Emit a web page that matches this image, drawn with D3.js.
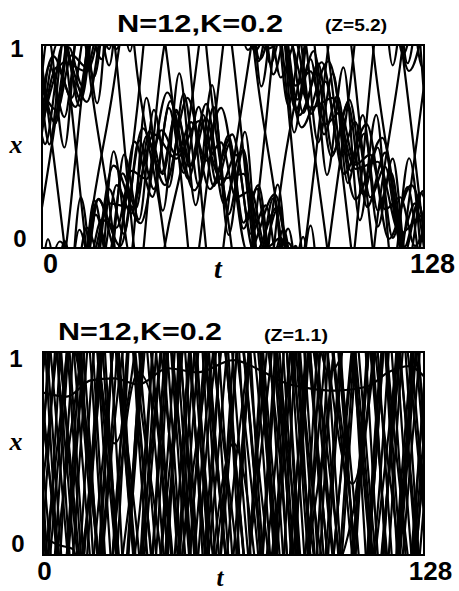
<!DOCTYPE html>
<html>
<head>
<meta charset="utf-8">
<script src="https://cdn.jsdelivr.net/npm/d3@7"></script>
<style>
  body { margin: 0; background: #fff; }
  svg { display: block; }
</style>
</head>
<body>
<svg id="fig" width="459" height="591"></svg>
<script>
// t runs 0..128, x is periodic on [0,1]; values below are unwrapped x
const tDomain = [0, 128]
const xDomain = [0, 1]
const tTicks = [0, 128]
const xTicks = [0, 1]

const titles = ['N=12,K=0.2', 'N=12,K=0.2']
const subTitles = ['(Z=5.2)', '(Z=1.1)']

// --- top panel: ten swing about the drifting bunch, two circulate freely
const c1 = [[0,0.78],[5,0.68],[10,0.95],[15,0.89],[20,1.14],[25,1.10],[30,1.38],[35,1.34],[40,1.58],[45,1.46],[50,1.62],[55,1.43],[60,1.52],[65,1.25],[70,1.28],[75,1.00],[80,1.05],[85,0.80],[90,0.87],[95,0.61],[100,0.67],[105,0.41],[110,0.46],[115,0.19],[120,0.25],[125,0.01],[128,0.10]]
const c2 = [[0,0.57],[5,0.89],[10,0.74],[15,1.10],[20,0.93],[25,1.31],[30,1.17],[35,1.55],[40,1.37],[45,1.67],[50,1.41],[55,1.64],[60,1.31],[65,1.46],[70,1.07],[75,1.21],[80,0.84],[85,1.01],[90,0.66],[95,0.82],[100,0.46],[105,0.62],[110,0.25],[115,0.40],[120,0.04],[125,0.22],[128,0.0]]
const c3 = [[0,0.62],[2.5,0.90],[7.5,0.645],[12.5,1.09],[17.5,0.845],[22.5,1.29],[27.5,1.07],[32.5,1.53],[37.5,1.29],[42.5,1.69],[47.5,1.37],[52.5,1.695],[57.5,1.305],[62.5,1.555],[67.5,1.095],[72.5,1.31],[77.5,0.855],[82.5,1.095],[87.5,0.665],[92.5,0.91],[97.5,0.47],[102.5,0.71],[107.5,0.265],[112.5,0.495],[117.5,0.05],[122.5,0.30],[127.5,-0.11],[128,-0.10]]
const c4 = [[0,0.74],[2.5,0.51],[7.5,1.035],[12.5,0.70],[17.5,1.235],[22.5,0.90],[27.5,1.46],[32.5,1.14],[37.5,1.68],[42.5,1.30],[47.5,1.76],[52.5,1.305],[57.5,1.695],[62.5,1.165],[67.5,1.485],[72.5,0.92],[77.5,1.245],[82.5,0.705],[87.5,1.055],[92.5,0.52],[97.5,0.86],[102.5,0.32],[107.5,0.655],[112.5,0.105],[117.5,0.44],[122.5,-0.09],[127.5,0.28],[128,0.27]]
const c5 = [[0,0.60],[7.5,0.915],[15,0.87],[22.5,1.22],[30,1.20],[37.5,1.56],[45,1.44],[52.5,1.625],[60,1.34],[67.5,1.365],[75,0.98],[82.5,1.025],[90,0.69],[97.5,0.74],[105,0.39],[112.5,0.425],[120,0.07],[127.5,0.16],[128,0.16]]
const c6 = [[0,0.75],[3.75,0.945],[11.25,0.695],[18.75,1.24],[26.25,1.01],[33.75,1.59],[41.25,1.31],[48.75,1.74],[56.25,1.29],[63.75,1.56],[71.25,0.97],[78.75,1.20],[86.25,0.655],[93.75,0.915],[101.25,0.365],[108.75,0.61],[116.25,0.045],[123.75,0.31],[128,0.12]]
const c7 = [[0,0.84],[4.5,0.614],[9,0.988],[13.5,0.80],[18,1.164],[22.5,0.98],[27,1.368],[31.5,1.196],[36,1.576],[40.5,1.364],[45,1.68],[49.5,1.40],[54,1.656],[58.5,1.321],[63,1.514],[67.5,1.125],[72,1.292],[76.5,0.907],[81,1.092],[85.5,0.731],[90,0.93],[94.5,0.56],[99,0.75],[103.5,0.38],[108,0.564],[112.5,0.185],[117,0.37],[121.5,0.006],[126,0.22],[128,0.12]]
const c8 = [[0,0.55],[1,0.512],[7,1.004],[13,0.73],[19,1.242],[25,0.98],[31,1.524],[37,1.252],[43,1.724],[49,1.34],[55,1.71],[61,1.218],[67,1.478],[73,0.928],[79,1.192],[85,0.68],[91,0.97],[97,0.45],[103,0.73],[109,0.202],[115,0.47],[121,-0.046],[127,0.27],[128,0.25]]
const c9 = [[0,0.6],[6,1.032],[15,0.72],[24,1.406],[33,1.122],[42,1.766],[51,1.284],[60,1.69],[69,0.976],[78,1.264],[87,0.594],[96,0.92],[105,0.24],[114,0.542],[123,-0.128],[128,0.1]]
const c10 = [[0,0.85],[2,1.044],[7.5,0.495],[13,1.25],[18.5,0.713],[24,1.476],[29.5,0.968],[35,1.74],[40.5,1.184],[46,1.86],[51.5,1.211],[57,1.802],[62.5,1.065],[68,1.572],[73.5,0.796],[79,1.312],[84.5,0.569],[90,1.11],[95.5,0.36],[101,0.89],[106.5,0.137],[112,0.656],[117.5,-0.10],[123,0.442],[128,-0.25]]
const w1 = [[0,0.9],[8,-0.05],[16,-1.15],[24,-1.95],[32,-3.15],[40,-3.85],[48,-4.85],[56,-6.15],[64,-7.05],[72,-8.15],[80,-8.95],[88,-10.15],[96,-11.05],[104,-12.05],[112,-13.15],[120,-13.95],[128,-14.95]]
const w2 = [[0,0.2],[8,1.0],[16,2.1],[24,2.8],[32,3.7],[40,4.9],[48,5.5],[56,6.4],[64,7.4],[72,8.2],[80,9.3],[88,10.0],[96,11.0],[104,11.9],[112,13.1],[120,13.9],[128,14.8]]
const panel1Paths = [c1, c2, c3, c4, c5, c6, c7, c8, c9, c10, w1, w2]

// --- bottom panel: fast particles, x sampled at these times
const knotsT2 = [0, 8, 16, 24, 32, 40, 48, 56, 64, 72, 80, 88, 96, 104, 112, 120, 128]
const p1 = [0.3,-1.4,-2.8,-4.8,-6.3,-7.6,-9.4,-11.1,-12.5,-14.6,-16.1,-17.8,-19.1,-20.9,-22.3,-24.0,-25.5]
const p2 = [0.6,2.0,3.8,5.1,6.8,8.8,10.2,11.7,12.8,14.6,16.3,17.7,19.7,21.0,22.5,24.2,25.6]
const p3 = [0.75,-0.55,-2.05,-3.85,-4.95,-6.35,-8.05,-10.05,-11.45,-12.75,-14.25,-16.05,-17.75,-18.85,-20.25,-22.25,-23.75]
const p4 = [0.1,1.9,3.4,4.8,6.8,8.1,9.8,11.2,13.0,14.5,15.8,17.8,19.2,20.9,22.7,24.0,25.5]
const p5 = [0.45,-0.95,-2.65,-3.45,-2.85,-1.35,0.45,1.85,2.55,1.85,0.15,-1.65,-3.05,-3.65,-2.85,-1.15,0.25]
const p6 = [0.9,2.0,3.4,5.1,5.9,5.5,4.2,2.7,0.9,-0.5,-1.6,-3.3,-4.1,-3.8,-2.5,-0.7,0.8]
const p7 = [0.2,-1.8,-3.5,-5.3,-7.4,-8.9,-10.6,-12.6,-14.4,-15.8,-17.5,-19.6,-21.4,-22.9,-24.9,-26.6,-28.4]
const p8 = [0.55,2.55,4.25,6.15,7.65,9.45,11.65,13.35,14.75,16.65,18.45,19.95,22.05,23.75,25.65,27.05,28.85]
const p9 = [0.65,-0.35,-1.65,-2.75,-4.15,-5.05,-6.35,-7.85,-8.85,-9.95,-11.35,-12.65,-13.55,-14.65,-16.05,-17.05,-18.35]
const p10 = [0.35,1.45,2.35,3.65,4.65,6.05,7.15,8.05,9.35,10.35,11.45,12.85,13.75,15.05,16.05,17.15,18.45]
// two slower ones: wavy line near the top, and one that sits near 0 before leaving
const s1 = [[0,0.8],[8,0.78],[16,0.86],[24,0.87],[32,0.84],[42,0.92],[52,0.9],[64,0.96],[73,0.91],[81,0.85],[90,0.82],[98,0.81],[109,0.83],[116,0.9],[123,0.93],[128,0.88]]
const s2 = [[0,0.09],[5,0.05],[10,0.03],[14,-0.3],[22,-1.6],[30,-2.9],[38,-4.3],[46,-5.4],[54,-6.9],[62,-8.1],[70,-9.4],[78,-10.9],[86,-12.0],[94,-13.5],[102,-14.7],[110,-16.0],[118,-17.4],[124,-18.2],[128,-18.8]]
const panel2Paths = [p1, p2, p3, p4, p5, p6, p7, p8, p9, p10]
  .map(xs => xs.map((x, i) => [knotsT2[i], x]))
  .concat([s1, s2])

const svg = d3.select('#fig')
const boldSans = '"Liberation Sans", Arial, Helvetica, sans-serif'
const serif = '"Liberation Serif", "Times New Roman", serif'

const panels = [
  { paths: panel1Paths, box: { left: 42, right: 424, top: 45, bottom: 248 },
    title: { x: 200, y: 32, w: 166, size: 24 }, sub: { x: 356, y: 31, w: 62, size: 16 },
    tLab: { baseline: 273, dx: [8, 8], size: 27 }, xLab: { cx: [20, 17], base: [247, 57], size: 24 },
    axisX: [16, 153], axisT: [218, 278], tSize: 28 },
  { paths: panel2Paths, box: { left: 43, right: 424, top: 352, bottom: 555 },
    title: { x: 140, y: 340, w: 164, size: 24 }, sub: { x: 296, y: 341, w: 64, size: 16 },
    tLab: { baseline: 580, dx: [1, 6], size: 26 }, xLab: { cx: [18, 16], base: [552, 367], size: 24 },
    axisX: [16, 450], axisT: [220, 586], tSize: 25 },
]

panels.forEach((p, pi) => {
  const b = p.box
  const xs = d3.scaleLinear().domain(tDomain).range([b.left, b.right])
  const ys = d3.scaleLinear().domain(xDomain).range([b.bottom, b.top])
  const g = svg.append('g')

  const clipId = 'clip' + pi
  svg.append('clipPath').attr('id', clipId).append('rect')
    .attr('x', b.left).attr('y', b.top)
    .attr('width', b.right - b.left).attr('height', b.bottom - b.top)

  const traces = g.append('g').attr('clip-path', `url(#${clipId})`)
  p.paths.forEach(path => {
    const lo = d3.min(path, d => d[1]), hi = d3.max(path, d => d[1])
    // periodic in x: draw every copy shifted by a whole period that lands in view
    for (let k = Math.floor(-hi); k <= Math.ceil(1 - lo); k++) {
      const line = d3.line()
        .x(d => xs(d[0]))
        .y(d => ys(d[1] + k))
        .curve(d3.curveMonotoneX)
      traces.append('path')
        .attr('d', line(path))
        .attr('fill', 'none').attr('stroke', '#000')
        .attr('stroke-width', 2.2).attr('stroke-linejoin', 'round')
    }
  })

  g.append('rect')
    .attr('x', b.left).attr('y', b.top)
    .attr('width', b.right - b.left).attr('height', b.bottom - b.top)
    .attr('fill', 'none').attr('stroke', '#000').attr('stroke-width', 2)

  // tick labels through d3 axes, nudged to where the figure has them
  const ax = g.append('g').attr('transform', `translate(0,${b.bottom})`)
    .call(d3.axisBottom(xs).tickValues(tTicks).tickSize(0).tickFormat(d3.format('d')))
  ax.select('.domain').remove()
  ax.selectAll('.tick text')
    .attr('y', p.tLab.baseline - b.bottom).attr('dy', 0)
    .attr('dx', (d, i) => p.tLab.dx[i])
    .attr('font-family', boldSans).attr('font-weight', 'bold')
    .attr('font-size', p.tLab.size).attr('fill', '#000')

  const ay = g.append('g')
    .call(d3.axisLeft(ys).tickValues(xTicks).tickSize(0).tickFormat(d3.format('d')))
  ay.select('.domain').remove()
  ay.selectAll('.tick').attr('transform', null)
  ay.selectAll('.tick text')
    .attr('x', (d, i) => p.xLab.cx[i]).attr('y', (d, i) => p.xLab.base[i]).attr('dy', 0)
    .attr('text-anchor', 'middle')
    .attr('font-family', boldSans).attr('font-weight', 'bold')
    .attr('font-size', p.xLab.size).attr('fill', '#000')

  g.append('text').text(titles[pi])
    .attr('x', p.title.x).attr('y', p.title.y).attr('text-anchor', 'middle')
    .attr('textLength', p.title.w).attr('lengthAdjust', 'spacingAndGlyphs')
    .attr('font-family', boldSans).attr('font-weight', 'bold').attr('font-size', p.title.size)

  g.append('text').text(subTitles[pi])
    .attr('x', p.sub.x).attr('y', p.sub.y).attr('text-anchor', 'middle')
    .attr('textLength', p.sub.w).attr('lengthAdjust', 'spacingAndGlyphs')
    .attr('font-family', boldSans).attr('font-weight', 'bold').attr('font-size', p.sub.size)

  g.append('text').text('x')
    .attr('x', p.axisX[0]).attr('y', p.axisX[1]).attr('text-anchor', 'middle')
    .attr('font-family', serif).attr('font-style', 'italic').attr('font-weight', 'bold')
    .attr('font-size', 26)

  g.append('text').text('t')
    .attr('x', p.axisT[0]).attr('y', p.axisT[1]).attr('text-anchor', 'middle')
    .attr('font-family', serif).attr('font-style', 'italic').attr('font-weight', 'bold')
    .attr('font-size', p.tSize)
})
</script>
</body>
</html>
